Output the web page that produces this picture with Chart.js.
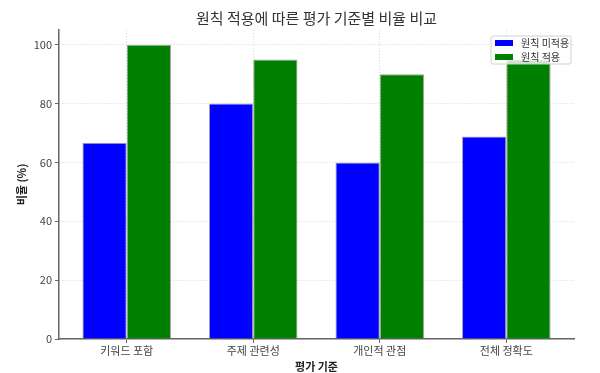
<!DOCTYPE html>
<html>
<head>
<meta charset="utf-8">
<script src="https://cdn.jsdelivr.net/npm/chart.js@4"></script>
<style>
  html, body { margin: 0; padding: 0; background: #fff; }
  #wrap { width: 600px; height: 373px; }
</style>
</head>
<body>
<div id="wrap"><canvas id="ratioChart" width="600" height="373"></canvas></div>
<script>
// Chart values
const categories = ['키워드 포함', '주제 관련성', '개인적 관점', '전체 정확도'];
const withoutPrinciple = [66.7, 80, 60, 68.8];
const withPrinciple = [100, 95, 90, 95];
const seriesLabels = ['원칙 미적용', '원칙 적용'];
const yTicks = [0, 20, 40, 60, 80, 100];
const chartTitle = '원칙 적용에 따른 평가 기준별 비율 비교';

const FONT = '"Noto Sans CJK KR", "Noto Sans", sans-serif';

// Bars sit on a numeric x axis so the spacing matches the original's margins
const toPoints = (values) => values.map((v, i) => ({ x: i, y: v }));

// Title centred over the plot area (not the whole canvas), like matplotlib
const plotTitle = {
    id: 'plotTitle',
    afterDraw(chart) {
        const { ctx, chartArea } = chart;
        ctx.save();
        ctx.font = '15px ' + FONT;
        ctx.fillStyle = '#333';
        ctx.textAlign = 'center';
        ctx.textBaseline = 'middle';
        ctx.fillText(chartTitle, (chartArea.left + chartArea.right) / 2, 18);
        ctx.restore();
    }
};

// Small legend box drawn inside the plot, top-right
const insideLegend = {
    id: 'insideLegend',
    afterDraw(chart) {
        const { ctx, chartArea } = chart;
        const w = 80, h = 28;
        const x = chartArea.right - w - 3;
        const y = chartArea.top + 6;
        ctx.save();
        ctx.beginPath();
        ctx.roundRect(x, y, w, h, 2);
        ctx.fillStyle = 'rgba(255,255,255,0.8)';
        ctx.fill();
        ctx.strokeStyle = '#d0d0d0';
        ctx.lineWidth = 1;
        ctx.stroke();
        ctx.font = '10px ' + FONT;
        ctx.textBaseline = 'middle';
        chart.data.datasets.forEach((ds, i) => {
            const cy = y + 7 + i * 14;
            ctx.fillStyle = ds.backgroundColor;
            ctx.fillRect(x + 4, cy - 3, 18, 6);
            ctx.fillStyle = '#333';
            ctx.fillText(ds.label, x + 30, cy);
        });
        ctx.restore();
    }
};

const gridStyle = {
    color: '#d6d6d6',
    offset: false,
    tickColor: '#666',
    tickBorderDash: [],
    tickLength: 4
};
const borderStyle = { display: true, color: '#666', width: 1.5, dash: [1, 2] };

new Chart(document.getElementById('ratioChart'), {
    type: 'bar',
    data: {
        datasets: [
            {
                label: seriesLabels[0],
                data: toPoints(withoutPrinciple),
                backgroundColor: '#0000ff',
                borderColor: 'rgba(140,140,140,0.8)',
                borderWidth: 1
            },
            {
                label: seriesLabels[1],
                data: toPoints(withPrinciple),
                backgroundColor: '#008000',
                borderColor: 'rgba(140,140,140,0.8)',
                borderWidth: 1
            }
        ]
    },
    options: {
        responsive: false,
        animation: false,
        categoryPercentage: 0.7,
        barPercentage: 1.0,
        layout: { padding: { left: 0, right: 26, top: 30, bottom: 0 } },
        plugins: {
            legend: { display: false },
            tooltip: { enabled: false },
            title: { display: false }
        },
        scales: {
            x: {
                type: 'linear',
                offset: false,
                min: -0.535,
                max: 3.535,
                afterBuildTicks: (scale) => {
                    scale.ticks = categories.map((c, i) => ({ value: i }));
                },
                afterFit: (scale) => { scale.height = 34; },
                ticks: {
                    color: '#444',
                    font: { family: FONT, size: 11 },
                    padding: 1,
                    maxRotation: 0,
                    autoSkip: false,
                    callback: (v) => categories[v]
                },
                grid: gridStyle,
                border: borderStyle,
                title: {
                    display: true,
                    text: '평가 기준',
                    color: '#222',
                    font: { family: FONT, size: 11, weight: 'bold' },
                    padding: { top: 5, bottom: 0 }
                }
            },
            y: {
                min: 0,
                max: 105,
                afterBuildTicks: (scale) => {
                    scale.ticks = yTicks.map((v) => ({ value: v }));
                },
                afterFit: (scale) => { scale.width = 59; },
                ticks: {
                    color: '#444',
                    font: { family: FONT, size: 11 },
                    padding: 3
                },
                grid: gridStyle,
                border: borderStyle,
                title: {
                    display: true,
                    text: '비율 (%)',
                    color: '#222',
                    font: { family: FONT, size: 11, weight: 'bold' },
                    padding: { top: 15, bottom: 0 }
                }
            }
        }
    },
    plugins: [plotTitle, insideLegend]
});
</script>
</body>
</html>
